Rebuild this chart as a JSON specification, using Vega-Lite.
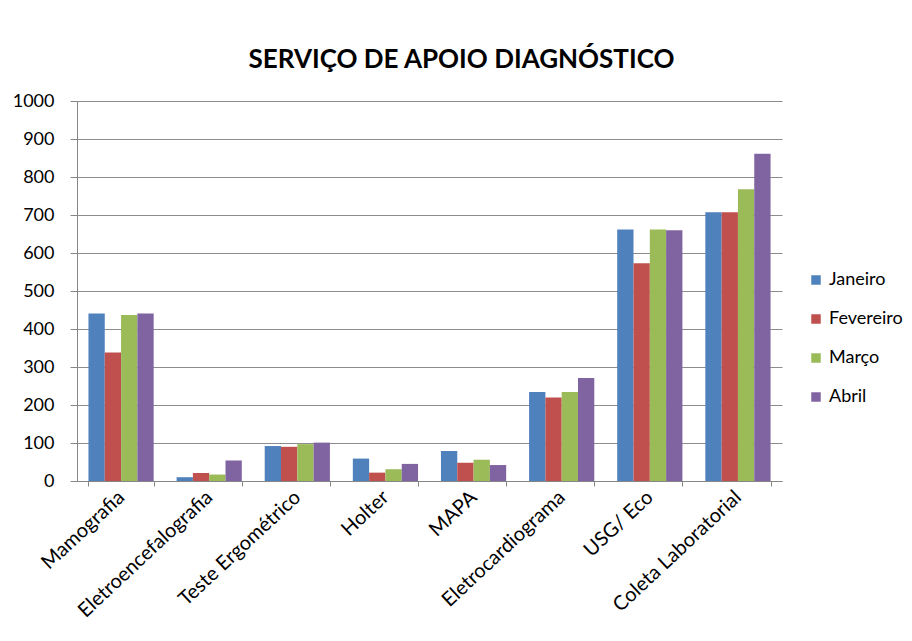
{
  "$schema": "https://vega.github.io/schema/vega-lite/v6.json",
  "width": 705,
  "height": 380,
  "autosize": {"type": "none"},
  "padding": {"left": 77, "top": 101, "right": 130, "bottom": 160},
  "background": "white",
  "title": {
    "text": "SERVIÇO DE APOIO DIAGNÓSTICO",
    "font": "Lato",
    "fontSize": 26,
    "fontWeight": "bold",
    "color": "#000000",
    "anchor": "middle",
    "dx": 32,
    "offset": 19
  },
  "config": {
    "font": "Lato",
    "view": {"stroke": null},
    "axis": {
      "labelFont": "Lato",
      "labelColor": "#000000",
      "domainColor": "#868686",
      "tickColor": "#868686",
      "gridColor": "#8c8c8c"
    }
  },
  "data": {
    "values": [
      {"exame": "Mamografia", "mes": "Janeiro", "valor": 441},
      {"exame": "Mamografia", "mes": "Fevereiro", "valor": 338},
      {"exame": "Mamografia", "mes": "Março", "valor": 437},
      {"exame": "Mamografia", "mes": "Abril", "valor": 441},
      {"exame": "Eletroencefalografia", "mes": "Janeiro", "valor": 10},
      {"exame": "Eletroencefalografia", "mes": "Fevereiro", "valor": 21},
      {"exame": "Eletroencefalografia", "mes": "Março", "valor": 17},
      {"exame": "Eletroencefalografia", "mes": "Abril", "valor": 54},
      {"exame": "Teste Ergométrico", "mes": "Janeiro", "valor": 92},
      {"exame": "Teste Ergométrico", "mes": "Fevereiro", "valor": 90},
      {"exame": "Teste Ergométrico", "mes": "Março", "valor": 97},
      {"exame": "Teste Ergométrico", "mes": "Abril", "valor": 101},
      {"exame": "Holter", "mes": "Janeiro", "valor": 59},
      {"exame": "Holter", "mes": "Fevereiro", "valor": 22},
      {"exame": "Holter", "mes": "Março", "valor": 31},
      {"exame": "Holter", "mes": "Abril", "valor": 45},
      {"exame": "MAPA", "mes": "Janeiro", "valor": 79},
      {"exame": "MAPA", "mes": "Fevereiro", "valor": 48},
      {"exame": "MAPA", "mes": "Março", "valor": 56},
      {"exame": "MAPA", "mes": "Abril", "valor": 42},
      {"exame": "Eletrocardiograma", "mes": "Janeiro", "valor": 234},
      {"exame": "Eletrocardiograma", "mes": "Fevereiro", "valor": 220},
      {"exame": "Eletrocardiograma", "mes": "Março", "valor": 234},
      {"exame": "Eletrocardiograma", "mes": "Abril", "valor": 271},
      {"exame": "USG/ Eco", "mes": "Janeiro", "valor": 662},
      {"exame": "USG/ Eco", "mes": "Fevereiro", "valor": 573},
      {"exame": "USG/ Eco", "mes": "Março", "valor": 662},
      {"exame": "USG/ Eco", "mes": "Abril", "valor": 660},
      {"exame": "Coleta Laboratorial", "mes": "Janeiro", "valor": 707},
      {"exame": "Coleta Laboratorial", "mes": "Fevereiro", "valor": 707},
      {"exame": "Coleta Laboratorial", "mes": "Março", "valor": 768},
      {"exame": "Coleta Laboratorial", "mes": "Abril", "valor": 861}
    ]
  },
  "mark": {"type": "bar"},
  "encoding": {
    "x": {
      "field": "exame",
      "type": "nominal",
      "sort": null,
      "scale": {"paddingInner": 0.26, "paddingOuter": 0.13},
      "axis": {
        "title": null,
        "labelAngle": -43,
        "labelAlign": "right",
        "labelBaseline": "middle",
        "labelFontSize": 20,
        "labelPadding": 8,
        "tickBand": "extent",
        "tickSize": 5
      }
    },
    "xOffset": {
      "field": "mes",
      "type": "nominal",
      "sort": ["Janeiro", "Fevereiro", "Março", "Abril"],
      "scale": {"paddingInner": 0, "paddingOuter": 0}
    },
    "y": {
      "field": "valor",
      "type": "quantitative",
      "scale": {"domain": [0, 1000], "nice": false},
      "axis": {
        "title": null,
        "format": "d",
        "values": [0, 100, 200, 300, 400, 500, 600, 700, 800, 900, 1000],
        "labelFontSize": 18,
        "tickSize": 7,
        "labelPadding": 16,
        "grid": true
      }
    },
    "color": {
      "field": "mes",
      "type": "nominal",
      "sort": ["Janeiro", "Fevereiro", "Março", "Abril"],
      "scale": {
        "domain": ["Janeiro", "Fevereiro", "Março", "Abril"],
        "range": ["#4F81BD", "#C0504D", "#9BBB59", "#8064A2"]
      },
      "legend": {
        "title": null,
        "orient": "none",
        "legendX": 730,
        "legendY": 170,
        "padding": 0,
        "symbolType": "square",
        "symbolSize": 90,
        "symbolStrokeWidth": 0,
        "labelFont": "Lato",
        "labelFontSize": 18,
        "labelColor": "#000000",
        "labelOffset": 4,
        "rowPadding": 21
      }
    }
  }
}
